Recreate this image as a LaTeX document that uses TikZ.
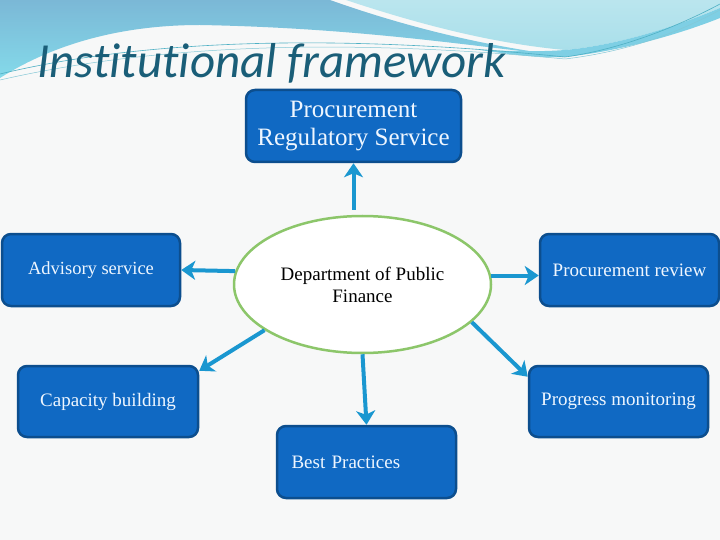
\documentclass[tikz,border=0pt]{standalone}
\usepackage{fontspec}
\setmainfont{Liberation Serif}
\newfontfamily\titlefont[Ligatures=NoCommon]{Carlito}
\usetikzlibrary{arrows.meta,shapes.geometric,calc}
\definecolor{bgc}{HTML}{F7F8F8}
\definecolor{blueA}{HTML}{7BB8D6}
\definecolor{blueAlow}{HTML}{84DAEA}
\definecolor{cyanB}{HTML}{A9DFEA}
\definecolor{cyanC}{HTML}{5EC3DE}
\definecolor{thinl}{HTML}{4FB0C4}
\definecolor{titlec}{HTML}{1A5E78}
\definecolor{boxfill}{HTML}{1069C3}
\definecolor{boxdraw}{HTML}{0C4E8E}
\definecolor{boxtext}{HTML}{EEF6FF}
\definecolor{arrc}{HTML}{1A97D0}
\definecolor{ellc}{HTML}{8CC66A}
\tikzset{
  bluebox/.style={rectangle, rounded corners=9pt, fill=boxfill, draw=boxdraw,
    line width=2.5pt, text=boxtext, inner sep=0pt, align=center,
    font=\fontsize{19}{22}\selectfont},
  arr/.style={draw=arrc, line width=4pt, -{Stealth[length=14pt,width=19pt,inset=4pt]}},
}
\begin{document}
\begin{tikzpicture}[x=1pt,y=-1pt]
\useasboundingbox (0,0) rectangle (720,540);
\fill[bgc] (0,0) rectangle (720,540);
% header decoration
\shade[top color=blueA, bottom color=blueAlow]
  (0,0) -- (330,0) .. controls (420,32) and (500,48) .. (565,56)
  .. controls (470,46) and (360,28) .. (200,25)
  .. controls (130,25) and (60,40) .. (0,78) -- cycle;
\shade[top color=cyanB!80!white, bottom color=cyanB]
  (346,0) .. controls (430,28) and (500,44) .. (565,50)
  .. controls (620,45) and (680,25) .. (720,8) -- (720,0) -- cycle;
\fill[cyanC!80!white] (480,50) .. controls (520,56) and (545,58) .. (565,57)
  .. controls (630,50) and (690,30) .. (720,18) -- (720,8)
  .. controls (680,25) and (620,45) .. (565,50) .. controls (540,52) and (510,51) .. (480,50) -- cycle;
\draw[thinl, line width=0.6pt] (0,74) .. controls (120,45) and (300,30) .. (565,57)
  .. controls (630,48) and (690,20) .. (720,4);
\draw[thinl!70!white, line width=0.5pt] (0,80) .. controls (140,48) and (320,36) .. (565,59)
  .. controls (640,50) and (690,26) .. (720,10);
% title
\node[anchor=base west, inner sep=0pt, text=titlec,
  font=\titlefont\itshape\fontsize{49}{52}\selectfont] (title) at (37,78) {Institutional framework};
% nodes
\node[bluebox, minimum width=215pt, minimum height=72pt,
  font=\fontsize{25}{28}\selectfont] (top) at (353.5,126) {Procurement\\Regulatory Service};
\node[ellipse, draw=ellc, fill=white, line width=2.5pt, minimum width=257pt,
  minimum height=137pt, inner sep=0pt, align=center,
  font=\fontsize{19}{22}\selectfont] (ell) at (362.5,284.5) {Department of Public\\Finance};
\node[bluebox, minimum width=178pt, minimum height=72pt,
  font=\fontsize{18.5}{22}\selectfont] (adv) at (91,270) {Advisory service};
\node[bluebox, minimum width=180pt, minimum height=71pt] (cap) at (108,401.5) {Capacity building};
\node[bluebox, minimum width=179pt, minimum height=72pt] (rev) at (629.5,270) {Procurement review};
\node[bluebox, minimum width=179pt, minimum height=71pt] (prog) at (618.5,401.5) {Progress monitoring};
\node[bluebox, minimum width=179pt, minimum height=72pt, text width=150pt, align=left] (best) at (366.5,462) {Best Practices};
% connectors
\draw[arr] ([yshift=5pt]ell.north -| top.south) -- (top.south);
\draw[arr] (ell.174) -- (adv.east);
\draw[arr] (ell.4) -- (ell.4 -| rev.west);
\draw[arr] (ell.205) -- ([yshift=-6pt]cap.north east);
\draw[arr] (ell.-19) -- ([yshift=-12pt]prog.north west);
\draw[arr] (ell.south) -- (best.north);
\end{tikzpicture}
\end{document}
